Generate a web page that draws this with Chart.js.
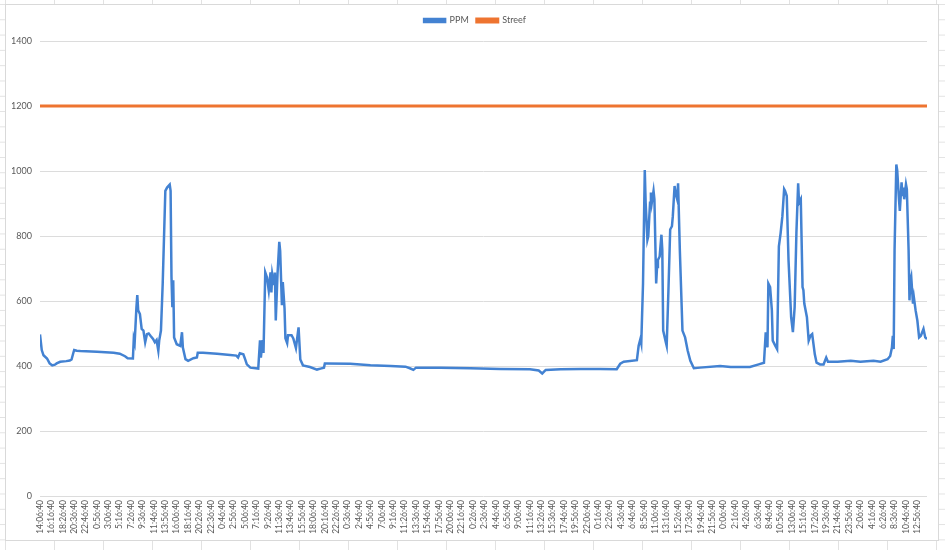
<!DOCTYPE html>
<html>
<head>
<meta charset="utf-8">
<script src="https://cdn.jsdelivr.net/npm/chart.js@4.4.1/dist/chart.umd.min.js"></script>
<style>
  html, body { margin: 0; padding: 0; }
  body {
    width: 945px;
    height: 550px;
    overflow: hidden;
    position: relative;
    background-color: #fff;
    /* spreadsheet cells behind the chart */
    background-image:
      linear-gradient(to right, #e2e2e2 1px, transparent 1px),
      linear-gradient(to bottom, #e2e2e2 1px, transparent 1px);
    background-size: 49px 15.3px;
    background-position: 5px 4px;
  }
  #frame {
    position: absolute;
    left: 5px;
    top: 4px;
    width: 934px;
    height: 537px;
    box-sizing: border-box;
    border: 1px solid #d9d9d9;
    background: #fff;
  }
  canvas { display: block; }
</style>
</head>
<body>
<div id="frame"><canvas id="chart" width="932" height="535"></canvas></div>
<script>
// one x label every 13 samples, samples are 10 minutes apart
const labelStep = 13;
const timeLabels = [
  '14:06:40', '16:16:40', '18:26:40', '20:36:40', '22:46:40', '0:56:40', '3:06:40', '5:16:40',
  '7:26:40', '9:36:40', '11:46:40', '13:56:40', '16:06:40', '18:16:40', '20:26:40', '22:36:40',
  '0:46:40', '2:56:40', '5:06:40', '7:16:40', '9:26:40', '11:36:40', '13:46:40', '15:56:40',
  '18:06:40', '20:16:40', '22:26:40', '0:36:40', '2:46:40', '4:56:40', '7:06:40', '9:16:40',
  '11:26:40', '13:36:40', '15:46:40', '17:56:40', '20:06:40', '22:16:40', '0:26:40', '2:36:40',
  '4:46:40', '6:56:40', '9:06:40', '11:16:40', '13:26:40', '15:36:40', '17:46:40', '19:56:40',
  '22:06:40', '0:16:40', '2:26:40', '4:36:40', '6:46:40', '8:56:40', '11:06:40', '13:16:40',
  '15:26:40', '17:36:40', '19:46:40', '21:56:40', '0:06:40', '2:16:40', '4:26:40', '6:36:40',
  '8:46:40', '10:56:40', '13:06:40', '15:16:40', '17:26:40', '19:36:40', '21:46:40', '23:56:40',
  '2:06:40', '4:16:40', '6:26:40', '8:36:40', '10:46:40', '12:56:40'
];

// PPM readings: sample number and value
const ppmSample = [
  0, 2, 4, 8, 11, 14, 17, 19, 23, 30, 34, 36, 38, 39, 42, 46, 65, 84, 91, 97,
  100, 106, 107, 108, 110, 111, 112, 114, 116, 118, 120, 122, 124, 126, 129, 131, 133, 135, 136, 138,
  140, 143, 145, 148, 149, 150, 151, 152, 153, 156, 160, 162, 163, 166, 169, 175, 179, 180, 186, 202,
  217, 224, 226, 228, 232, 234, 236, 240, 249, 251, 252, 254, 255, 257, 259, 261, 263, 264, 265, 267,
  268, 269, 271, 273, 274, 276, 277, 279, 280, 282, 283, 287, 289, 292, 295, 297, 300, 308, 316, 320,
  324, 325, 327, 354, 377, 400, 417, 422, 426, 429, 457, 491, 525, 559, 569, 573, 577, 594, 617, 639,
  658, 662, 666, 681, 683, 685, 686, 688, 690, 691, 693, 694, 696, 697, 698, 700, 701, 703, 704, 705,
  707, 709, 710, 711, 714, 715, 717, 719, 721, 722, 724, 725, 727, 728, 730, 733, 736, 739, 742, 746,
  753, 776, 788, 810, 820, 826, 828, 830, 831, 833, 835, 836, 839, 841, 843, 845, 847, 849, 850, 852,
  854, 857, 859, 861, 863, 865, 866, 868, 870, 871, 872, 875, 877, 879, 881, 884, 886, 890, 894, 897,
  899, 910, 925, 936, 951, 959, 967, 970, 972, 973, 974, 975, 977, 978, 980, 981, 983, 984, 985, 986,
  988, 989, 991, 992, 993, 994, 996, 997, 999, 1001, 1003, 1005, 1008, 1010, 1012
];
const ppmValue = [
  497, 449, 433, 423, 408, 402, 404, 408, 413, 415, 417, 420, 440, 449, 447, 446, 444, 441, 438, 430,
  424, 423, 483, 472, 580, 618, 571, 560, 514, 509, 473, 498, 500, 493, 483, 473, 480, 447, 478, 509,
  654, 939, 949, 958, 939, 675, 581, 664, 488, 467, 462, 504, 457, 421, 416, 424, 426, 441, 441, 438,
  434, 432, 426, 439, 436, 421, 405, 395, 392, 479, 426, 480, 440, 688, 672, 632, 688, 626, 683, 652,
  688, 540, 683, 782, 754, 587, 658, 577, 485, 470, 495, 495, 485, 455, 519, 420, 402, 397, 389, 392,
  395, 408, 408, 407, 402, 400, 398, 393, 388, 395, 395, 393, 391, 390, 386, 377, 388, 390, 391, 391,
  390, 407, 413, 418, 462, 483, 470, 654, 1003, 902, 788, 799, 902, 934, 902, 939, 913, 654, 705, 726,
  737, 804, 757, 509, 473, 462, 633, 820, 830, 861, 954, 934, 913, 962, 757, 509, 488, 447, 416, 393,
  395, 400, 397, 397, 405, 410, 504, 457, 654, 643, 571, 478, 462, 452, 768, 809, 861, 944, 939, 923,
  726, 550, 504, 581, 809, 962, 902, 913, 643, 633, 592, 550, 478, 493, 498, 436, 410, 405, 405, 426,
  413, 413, 416, 413, 416, 413, 421, 431, 457, 493, 452, 757, 1020, 1003, 913, 877, 965, 923, 949, 913,
  959, 944, 757, 602, 664, 675, 592, 612, 571, 540, 488, 493, 514, 488, 483
];

// target line
const streefSample = [0, 1012];
const streefValue = [1200, 1200];

const yTicks = [0, 200, 400, 600, 800, 1000, 1200, 1400];

const textColor = '#595959';
const fontFamily = 'Lato, "Liberation Sans", sans-serif';
const lastSample = ppmSample[ppmSample.length - 1];

const ctx = document.getElementById('chart').getContext('2d');

const data = {
  datasets: [
    {
      label: 'PPM',
      data: ppmSample.map((s, i) => ({ x: s, y: ppmValue[i] })),
      borderColor: '#4382d2',
      backgroundColor: '#4382d2',
      borderWidth: 2.5,
      pointRadius: 0,
      tension: 0,
    },
    {
      label: 'Streef',
      data: streefSample.map((s, i) => ({ x: s, y: streefValue[i] })),
      borderColor: '#ee7430',
      backgroundColor: '#ee7430',
      borderWidth: 3,
      pointRadius: 0,
    },
  ],
};

const options = {
  responsive: false,
  animation: false,
  layout: { padding: { top: 3, right: 0, bottom: 0, left: 6 } },
  plugins: {
    tooltip: { enabled: false },
    legend: {
      position: 'top',
      labels: {
        boxWidth: 21,
        boxHeight: 3,
        padding: 8,
        color: textColor,
        font: { family: fontFamily, size: 9 },
      },
    },
    // empty title used as a spacer between legend and plot
    title: {
      display: true,
      text: '',
      weight: 500,
      padding: 0,
      font: { size: 5 },
    },
  },
  scales: {
    x: {
      type: 'linear',
      min: 0,
      max: lastSample,
      afterBuildTicks: (axis) => {
        axis.ticks = timeLabels.map((_, i) => ({ value: i * labelStep }));
      },
      afterFit: (axis) => {
        axis.height = 44;
        axis.paddingRight = 11;
      },
      ticks: {
        autoSkip: false,
        minRotation: 90,
        maxRotation: 90,
        padding: 4,
        color: textColor,
        font: { family: fontFamily, size: 8.5 },
        callback: (v) => timeLabels[Math.round(v / labelStep)],
      },
      grid: { display: false, drawTicks: false },
      border: { display: false },
    },
    y: {
      min: 0,
      max: 1400,
      afterBuildTicks: (axis) => {
        axis.ticks = yTicks.map((v) => ({ value: v }));
      },
      afterFit: (axis) => { axis.width = 28; },
      ticks: {
        padding: 8,
        color: textColor,
        font: { family: fontFamily, size: 9 },
        callback: (v) => String(v),
      },
      grid: { color: '#dcdcdc', drawTicks: false },
      border: { display: false },
    },
  },
};

new Chart(ctx, { type: 'line', data, options });
</script>
</body>
</html>
